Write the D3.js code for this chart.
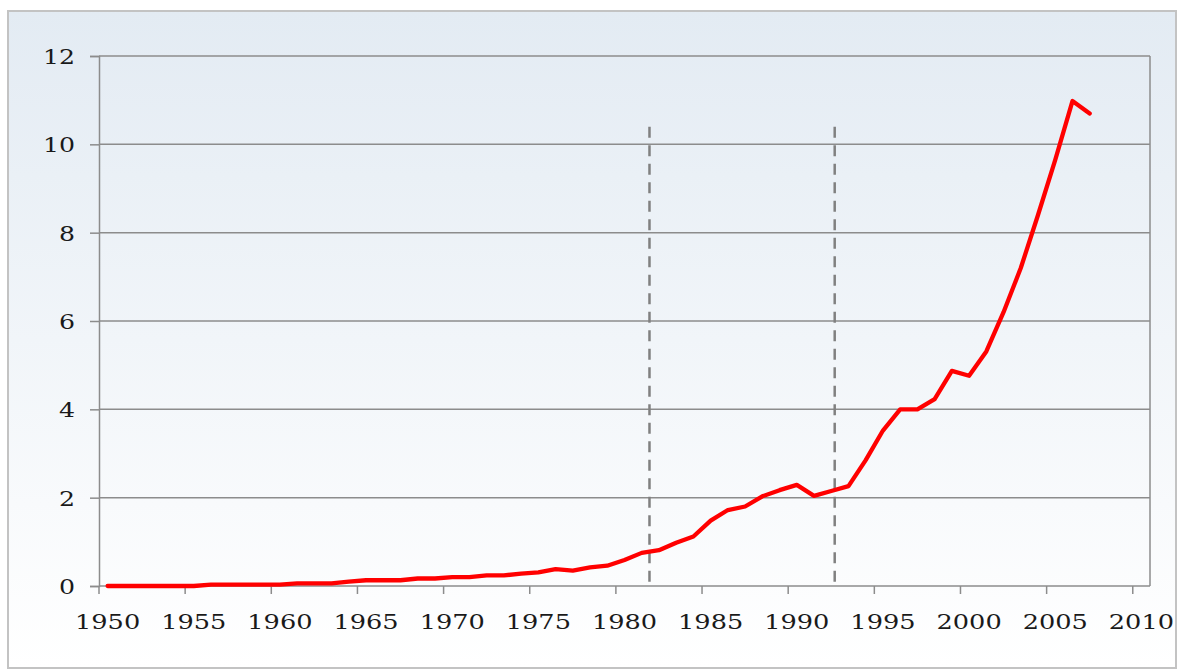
<!DOCTYPE html>
<html><head><meta charset="utf-8">
<script src="https://cdn.jsdelivr.net/npm/d3@7"></script>
<style>html,body{margin:0;padding:0;background:#fff;}svg{display:block;}</style>
</head><body>
<svg id="chart" width="1180" height="671"></svg>
<script>
const years = d3.range(1950, 2011);
const dataYears = d3.range(1950, 2008);
const values = [0,0,0,0,0,0,0.03,0.03,0.03,0.03,0.03,0.06,0.06,0.06,0.1,0.13,0.13,0.13,0.17,0.17,
  0.2,0.2,0.24,0.24,0.28,0.31,0.38,0.35,0.42,0.46,0.59,0.75,0.81,0.98,1.12,1.48,1.72,1.8,2.03,2.17,
  2.29,2.04,2.15,2.26,2.85,3.52,4.0,4.0,4.23,4.87,4.76,5.31,6.2,7.2,8.4,9.65,10.98,10.7];
const yTicks = [0,2,4,6,8,10,12];
const xTickLabels = [1950,1955,1960,1965,1970,1975,1980,1985,1990,1995,2000,2005,2010];
const markerYears = [1981.45, 1992.2];
const markerTop = 10.4;

const svg = d3.select("#chart");
const L = 99, R = 1150, T = 56, B = 586;

const defs = svg.append("defs");
const grad = defs.append("linearGradient").attr("id","bg").attr("x1",0).attr("y1",0).attr("x2",0).attr("y2",1);
grad.append("stop").attr("offset","0%").attr("stop-color","#e3ebf3");
grad.append("stop").attr("offset","100%").attr("stop-color","#ffffff");

svg.append("rect").attr("x",8).attr("y",11).attr("width",1168).attr("height",657)
  .attr("fill","url(#bg)").attr("stroke","#c3c3c3").attr("stroke-width",2);

const xBand = d3.scaleBand().domain(years).range([L, R]).paddingInner(0).paddingOuter(0);
const xLin = d3.scaleLinear().domain([1949.5, 2010.5]).range([L, R]);
const y = d3.scaleLinear().domain([0, 12]).range([B, T]);

// gridlines
svg.append("g").selectAll("line").data(yTicks.filter(d=>d>0)).join("line")
  .attr("x1",L).attr("x2",R).attr("y1",d=>y(d)).attr("y2",d=>y(d))
  .attr("stroke","#8c8c8c").attr("stroke-width",1.5);

// right border
svg.append("line").attr("x1",R).attr("x2",R).attr("y1",T).attr("y2",B)
  .attr("stroke","#8c8c8c").attr("stroke-width",1.5);

// y axis
const yAxis = svg.append("g").attr("transform",`translate(${L},0)`)
  .call(d3.axisLeft(y).tickValues(yTicks).tickSize(9).tickPadding(15).tickFormat(d3.format("d")));
yAxis.select(".domain").attr("stroke","#8c8c8c").attr("stroke-width",1.5);
yAxis.selectAll(".tick line").attr("stroke","#8c8c8c").attr("stroke-width",1.5);
yAxis.selectAll(".tick text")
  .attr("font-family","'DejaVu Serif', serif").attr("font-size",21).attr("fill","#1a1a1a")
  .attr("transform","scale(1.2,1)").attr("dy","0.36em")
  .attr("x", -24/1.2);

// x axis: ticks at category boundaries, labels at category centers
const xg = svg.append("g");
xg.append("line").attr("x1",L).attr("x2",R).attr("y1",B).attr("y2",B)
  .attr("stroke","#8c8c8c").attr("stroke-width",1.5);
xg.selectAll("line.tk").data(xTickLabels).join("line").attr("class","tk")
  .attr("x1",d=>xBand(d)).attr("x2",d=>xBand(d)).attr("y1",B).attr("y2",B+8)
  .attr("stroke","#8c8c8c").attr("stroke-width",1.5);
xg.selectAll("text").data(xTickLabels).join("text")
  .attr("transform",d=>`translate(${xBand(d)+xBand.bandwidth()/2},629) scale(1.22,1)`)
  .attr("text-anchor","middle")
  .attr("font-family","'DejaVu Serif', serif").attr("font-size",21).attr("fill","#1a1a1a")
  .text(d=>d);

// dashed markers
svg.append("g").selectAll("line").data(markerYears).join("line")
  .attr("x1",d=>xLin(d)).attr("x2",d=>xLin(d)).attr("y1",y(markerTop)).attr("y2",B-3)
  .attr("stroke","#808080").attr("stroke-width",2.5).attr("stroke-dasharray","11,7.5");

// data line
const line = d3.line().x((d,i)=>xBand(dataYears[i])+xBand.bandwidth()/2).y(d=>y(d));
svg.append("path").datum(values).attr("d",line)
  .attr("fill","none").attr("stroke","#ff0000").attr("stroke-width",4.3)
  .attr("stroke-linejoin","round").attr("stroke-linecap","round");
</script>
</body></html>
